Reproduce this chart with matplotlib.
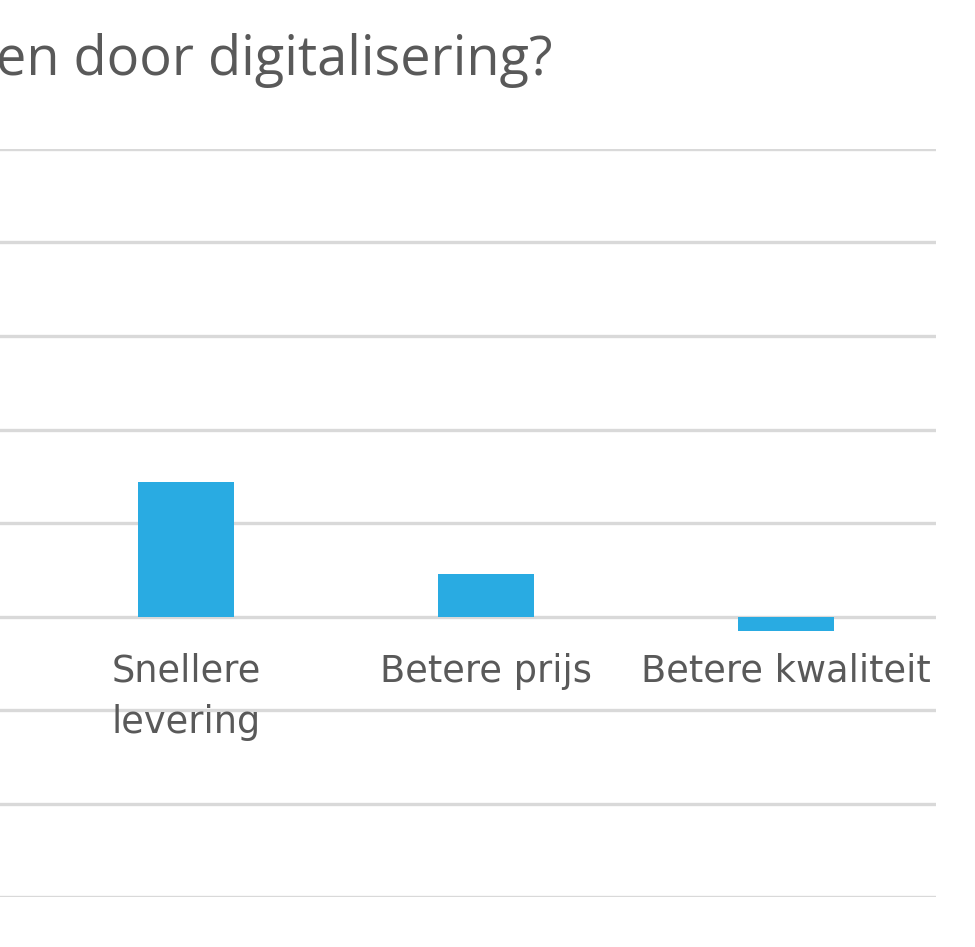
import numpy as np
import matplotlib.pyplot as plt

# Data (de linker categorie valt buiten beeld)
categories = ['Meer\nklantcontact', 'Snellere\nlevering', 'Betere prijs', 'Betere kwaliteit']
values = [np.nan, 14.4, 4.5, -1.6]
y_ticks = [-30, -20, -10, 0, 10, 20, 30, 40, 50]
title = 'en door digitalisering?'

bar_color = '#29ABE2'
text_color = '#595959'
grid_color = '#D9D9D9'

plt.rcParams['font.family'] = ['Open Sans', 'DejaVu Sans']

fig = plt.figure(figsize=(9.75, 9.47), dpi=100)
W, H = 975, 947

# De grafiek is links afgesneden: assen beginnen buiten de figuur
left_px, right_px = -264, 936
top_px, bottom_px = 149, 897
ax = fig.add_axes([left_px / W, (H - bottom_px) / H,
                   (right_px - left_px) / W, (bottom_px - top_px) / H])

x = np.arange(len(categories))
ax.bar(x, values, width=0.317, color=bar_color, zorder=3)

ax.set_xlim(-0.5, len(categories) - 0.5)
ax.set_ylim(y_ticks[0], y_ticks[-1])
ax.set_yticks(y_ticks)
ax.set_axisbelow(True)
ax.yaxis.grid(True, color=grid_color, linewidth=2.4)
ax.tick_params(axis='y', length=0, labelleft=False)

for s in ['left', 'right', 'top']:
    ax.spines[s].set_visible(False)
ax.spines['bottom'].set_position(('data', 0))
ax.spines['bottom'].set_visible(False)

ax.set_xticks(x)
ax.set_xticklabels(categories, fontsize=26.5, color=text_color,
                   family=['DejaVu Sans'], linespacing=1.48,
                   multialignment='center')
ax.tick_params(axis='x', length=0, pad=26)
for lbl in ax.get_xticklabels():
    lbl.set_verticalalignment('top')
# labels boven de rasterlijnen tekenen
ax.xaxis.set_zorder(4)

fig.text(553 / W, (H - 75) / H, title, ha='right', va='baseline',
         fontsize=39, color=text_color)

fig.savefig('out.png', dpi=100)
